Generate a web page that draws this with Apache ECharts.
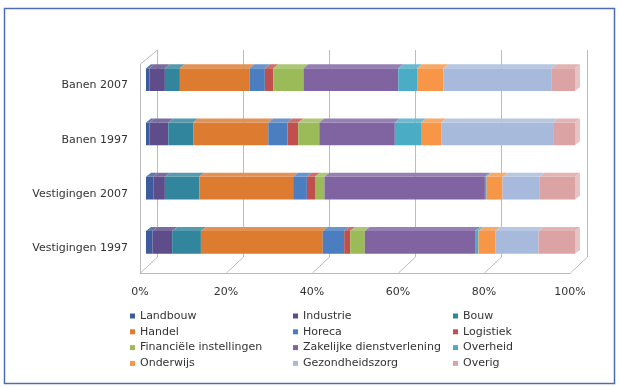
<!DOCTYPE html>
<html>
<head>
<meta charset="utf-8">
<script src="https://cdn.jsdelivr.net/npm/echarts@6/dist/echarts.min.js"></script>
<style>
  html, body { margin: 0; padding: 0; background: #ffffff; }
  #chart { width: 620px; height: 387px; }
</style>
</head>
<body>
<div id="chart"></div>
<script>
// Sector names (stack order, left to right) and their colours
const sectors = ['Landbouw', 'Industrie', 'Bouw', 'Handel', 'Horeca', 'Logistiek',
  'Financiële instellingen', 'Zakelijke dienstverlening', 'Overheid', 'Onderwijs',
  'Gezondheidszorg', 'Overig'];
const sectorColors = ['#3D5C9E', '#5F4C8A', '#31859C', '#DD7B30', '#4A7EC0', '#C0504D',
  '#9BBB59', '#8064A2', '#4BACC6', '#F79646', '#A8BADB', '#DBA3A3'];

// Category axis, bottom to top
const categories = ['Vestigingen 1997', 'Vestigingen 2007', 'Banen 1997', 'Banen 2007'];

// Share per sector (%), in the order of `sectors`
const vestigingen1997 = [1.5, 4.6, 6.7, 28.4, 5.0, 1.4, 3.4, 25.7, 0.8, 3.9, 10.1, 8.5];
const vestigingen2007 = [1.7, 2.7, 8.0, 21.9, 3.2, 1.9, 2.2, 37.4, 0.4, 3.7, 8.7, 8.2];
const banen1997       = [0.8, 4.4, 5.8, 17.5, 4.5, 2.5, 4.9, 17.6, 6.1, 4.7, 26.1, 5.1];
const banen2007       = [0.8, 3.6, 3.5, 16.2, 3.6, 2.0, 7.0, 22.1, 4.4, 6.1, 25.3, 5.4];

// Value axis ticks
const percentTicks = [0, 20, 40, 60, 80, 100];

const rows = [vestigingen1997, vestigingen2007, banen1997, banen2007];

// Depth of the pseudo-3D boxes
const DX = 5, DY = 4;

const chart = echarts.init(document.getElementById('chart'), null, { renderer: 'canvas' });

function renderSegment(params, api) {
  const ci = api.value(2);
  const p0 = api.coord([api.value(0), ci]);
  const p1 = api.coord([api.value(1), ci]);
  const h = api.size([0, 1])[1] * 0.42;
  const x0 = p0[0], x1 = p1[0];
  const y0 = p0[1] - h / 2;
  const color = api.visual('color');
  const top = echarts.color.lift(color, 0.18);
  const children = [
    { type: 'rect', shape: { x: x0, y: y0, width: Math.max(0, x1 - x0), height: h },
      style: { fill: color } },
    { type: 'polygon', shape: { points: [[x0, y0], [x1, y0], [x1 + DX, y0 - DY], [x0 + DX, y0 - DY]] },
      style: { fill: top } }
  ];
  if (params.seriesIndex === sectors.length - 1) {
    children.push({ type: 'polygon',
      shape: { points: [[x1, y0], [x1 + DX, y0 - DY], [x1 + DX, y0 + h - DY], [x1, y0 + h]] },
      style: { fill: echarts.color.lift(color, 0.35) } });
  }
  return { type: 'group', children: children };
}

const series = sectors.map((name, s) => ({
  name: name,
  type: 'custom',
  xAxisIndex: 0,
  yAxisIndex: 0,
  z: 5,
  itemStyle: { color: sectorColors[s] },
  encode: { x: [0, 1], y: 2 },
  renderItem: renderSegment,
  data: rows.map((row, ci) => {
    let start = 0;
    for (let k = 0; k < s; k++) start += row[k];
    return [start, start + row[s], ci];
  })
}));

// Layout of the three planes: bars, front floor edge, back wall
const gridBars  = { left: 146, right: 45, top: 52.5, bottom: 117.5 };
const gridFront = { left: 140, right: 50, top: 64, bottom: 114 };
const gridBack  = { left: 157, right: 33, top: 50, bottom: 130 };
const H = 387;

function legendCol(left, idx) {
  return {
    orient: 'vertical', left: left, top: 309,
    icon: 'rect', itemWidth: 5, itemHeight: 5, itemGap: 1.8,
    selectedMode: false, padding: 0,
    textStyle: { fontFamily: 'DejaVu Sans', fontSize: 11, color: '#333', lineHeight: 14 },
    data: idx.map(i => sectors[i])
  };
}

chart.setOption({
  animation: false,
  backgroundColor: '#ffffff',
  color: sectorColors,
  grid: [
    Object.assign({}, gridBars),
    Object.assign({}, gridFront),
    Object.assign({}, gridBack)
  ],
  xAxis: [
    { gridIndex: 0, type: 'value', min: 0, max: 100, show: false },
    { gridIndex: 1, type: 'value', min: 0, max: 100, interval: 20,
      axisLine: { show: true, lineStyle: { color: '#b8b8b8' } },
      axisTick: { show: false }, splitLine: { show: false },
      axisLabel: { margin: 14, fontFamily: 'DejaVu Sans', fontSize: 11, color: '#333',
        formatter: v => percentTicks.indexOf(v) >= 0 ? v + '%' : '' } },
    { gridIndex: 2, type: 'value', min: 0, max: 100, interval: 20, show: false }
  ],
  yAxis: [
    { gridIndex: 0, type: 'category', data: categories,
      axisLine: { show: false }, axisTick: { show: false },
      axisLabel: { margin: 18, fontFamily: 'DejaVu Sans', fontSize: 11, color: '#333',
        verticalAlign: 'top', lineHeight: 12 } },
    { gridIndex: 1, type: 'value', min: 0, max: 1, show: false },
    { gridIndex: 2, type: 'value', min: 0, max: 1, show: false }
  ],
  legend: [
    legendCol(130, [0, 3, 6, 9]),
    legendCol(293, [1, 4, 7, 10]),
    legendCol(453, [2, 5, 8, 11])
  ],
  series: series
});

// Back wall gridlines, floor lines and side-wall edges
const frontY = H - gridFront.bottom;
const backY = H - gridBack.bottom;
const snap = v => Math.round(v) + 0.5;
function wallLine(x1, y1, x2, y2) {
  return { type: 'line', shape: { x1: x1, y1: y1, x2: x2, y2: y2 },
    style: { stroke: '#bcbcbc', lineWidth: 1 }, silent: true, z: 1 };
}
const edges = [];
percentTicks.forEach(v => {
  const xf = snap(chart.convertToPixel({ xAxisIndex: 1 }, v));
  const xb = snap(chart.convertToPixel({ xAxisIndex: 2 }, v));
  edges.push(wallLine(xf, frontY, xb, backY));
  edges.push(wallLine(xb, gridBack.top, xb, backY));
});
const xf0 = snap(chart.convertToPixel({ xAxisIndex: 1 }, 0));
const xb0 = snap(chart.convertToPixel({ xAxisIndex: 2 }, 0));
edges.push(wallLine(xf0, gridFront.top, xf0, frontY));
edges.push(wallLine(xf0, gridFront.top, xb0, gridBack.top));
// Outer frame
edges.push({ type: 'rect', shape: { x: 4.5, y: 8.5, width: 610, height: 375 },
  style: { fill: null, stroke: '#4d6db3', lineWidth: 1.5 }, silent: true, z: 0 });

chart.setOption({ graphic: edges });
</script>
</body>
</html>
